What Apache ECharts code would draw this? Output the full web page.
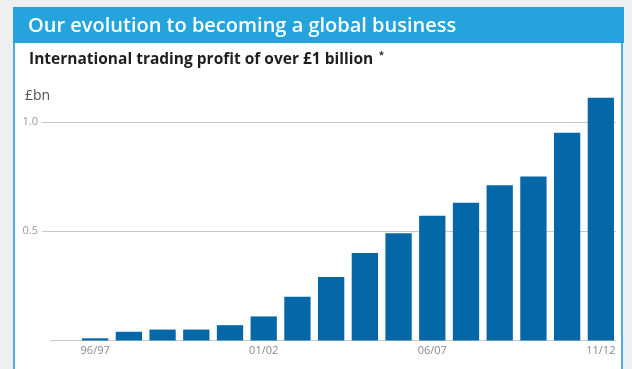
<!DOCTYPE html>
<html>
<head>
<meta charset="utf-8">
<title>International trading profit</title>
<script src="https://cdn.jsdelivr.net/npm/echarts@6/dist/echarts.min.js"></script>
<style>
  html, body { margin: 0; padding: 0; background: #eeeff0; }
  #chart { width: 632px; height: 369px; }
</style>
</head>
<body>
<div id="chart"></div>
<script>
// Financial years, 1996/97 to 2011/12
const years = ['96/97', '97/98', '98/99', '99/00', '00/01', '01/02', '02/03', '03/04',
               '04/05', '05/06', '06/07', '07/08', '08/09', '09/10', '10/11', '11/12'];
// International trading profit, £bn
const profit = [0.01, 0.04, 0.05, 0.05, 0.07, 0.11, 0.20, 0.29,
                0.40, 0.49, 0.57, 0.63, 0.71, 0.75, 0.95, 1.11];
// Value axis ticks
const yTicks = [0.5, 1.0];

const headline = 'Our evolution to becoming a global business';
const subhead = 'International trading profit of over £1 billion';
const unit = '£bn';

const FONT = '"Open Sans", "Noto Sans", sans-serif';
const PANEL_BLUE = '#25a3dc';
const BAR_BLUE = '#0468a8';
const GRID_GREY = '#c9c9c9';

const yMin = 0, yMax = 1.2, yStep = 0.5;
const plotTop = 78, plotBottom = 28.5;

const chart = echarts.init(document.getElementById('chart'), null, { renderer: 'canvas' });

chart.setOption({
  backgroundColor: '#eeeff0',
  animation: false,
  graphic: [
    { type: 'rect', z: -10, shape: { x: 14, y: 8, width: 608, height: 380 },
      style: { fill: '#ffffff', stroke: '#4aaede', lineWidth: 2 } },
    { type: 'rect', z: -9, shape: { x: 13, y: 7, width: 611, height: 36 },
      style: { fill: PANEL_BLUE } },
    { type: 'text', z: 5, left: 28, top: 16,
      style: { text: headline, fill: '#ffffff', font: '600 20px ' + FONT } },
    { type: 'text', z: 5, left: 29, top: 52,
      style: { text: subhead, fill: '#1e1e1e', font: 'bold 15.5px ' + FONT } },
    // footnote marker, raised
    { type: 'text', z: 5, left: 379, top: 51,
      style: { text: '*', fill: '#1e1e1e', font: 'bold 9px ' + FONT } },
    { type: 'text', z: 5, left: 25, top: 89,
      style: { text: unit, fill: '#505050', font: '14px ' + FONT } }
  ],
  grid: [
    // gridlines and value labels
    { left: 42, right: 16, top: plotTop, bottom: plotBottom },
    // baseline
    { left: 50, right: 16, top: plotTop, bottom: plotBottom },
    // bars
    { left: 78.3, right: 14.3, top: plotTop, bottom: plotBottom }
  ],
  xAxis: [
    { gridIndex: 0, type: 'value', show: false, min: 0, max: 1 },
    { gridIndex: 1, type: 'value', min: 0, max: 1,
      axisLine: { show: true, onZero: false, lineStyle: { color: GRID_GREY, width: 1 } },
      axisTick: { show: false }, axisLabel: { show: false }, splitLine: { show: false } },
    { gridIndex: 2, type: 'category', data: years,
      axisLine: { show: false }, axisTick: { show: false },
      axisLabel: { interval: 4, color: '#888888', fontSize: 11, fontFamily: FONT, margin: 5 } }
  ],
  yAxis: [
    { gridIndex: 0, type: 'value', min: yMin, max: yMax, interval: yStep,
      axisLine: { show: false }, axisTick: { show: false },
      axisLabel: {
        color: '#9a9a9a', fontSize: 11, fontFamily: FONT, margin: 4,
        showMinLabel: false, showMaxLabel: false,
        formatter: v => (yTicks.some(t => Math.abs(t - v) < 1e-9) ? v.toFixed(1) : '')
      },
      splitLine: { show: true, showMinLine: false, showMaxLine: false,
        lineStyle: { color: GRID_GREY, width: 1 } } },
    { gridIndex: 1, type: 'value', min: yMin, max: yMax, show: false },
    { gridIndex: 2, type: 'value', min: yMin, max: yMax, show: false }
  ],
  series: [
    { type: 'bar', xAxisIndex: 2, yAxisIndex: 2, data: profit,
      barCategoryGap: '22%', itemStyle: { color: BAR_BLUE }, z: 3 }
  ]
});
</script>
</body>
</html>
